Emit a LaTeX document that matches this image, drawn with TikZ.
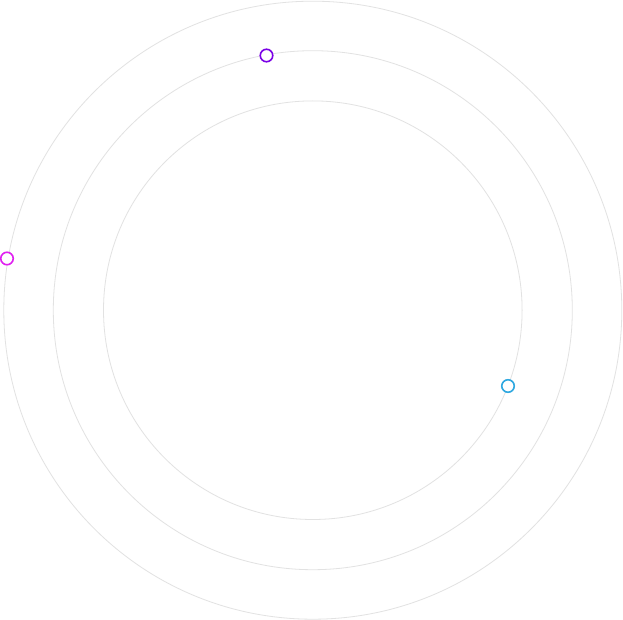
\documentclass[tikz,border=0pt]{standalone}
\definecolor{ringgray}{HTML}{E2E2E2}
\definecolor{dotpurple}{HTML}{7A00E6}
\definecolor{dotmagenta}{HTML}{E020F0}
\definecolor{dotcyan}{HTML}{2FA8E0}
\begin{document}
\begin{tikzpicture}[x=1pt,y=-1pt,
  ring/.style={draw=ringgray,line width=0.8pt},
  dot/.style={circle,fill=white,line width=1.6pt,minimum size=12.5pt,inner sep=0pt}]
\useasboundingbox[fill=white] (0,0) rectangle (623,620);
\coordinate (c) at (312.8,310.2);
\draw[ring] (c) circle (309);
\draw[ring] (c) circle (259.5);
\draw[ring] (c) circle (209.3);
\node[dot,draw=dotpurple] (p) at (266.5,55.5) {};
\node[dot,draw=dotmagenta] (m) at (7,258.5) {};
\node[dot,draw=dotcyan] (cy) at (508,386) {};
\end{tikzpicture}
\end{document}
